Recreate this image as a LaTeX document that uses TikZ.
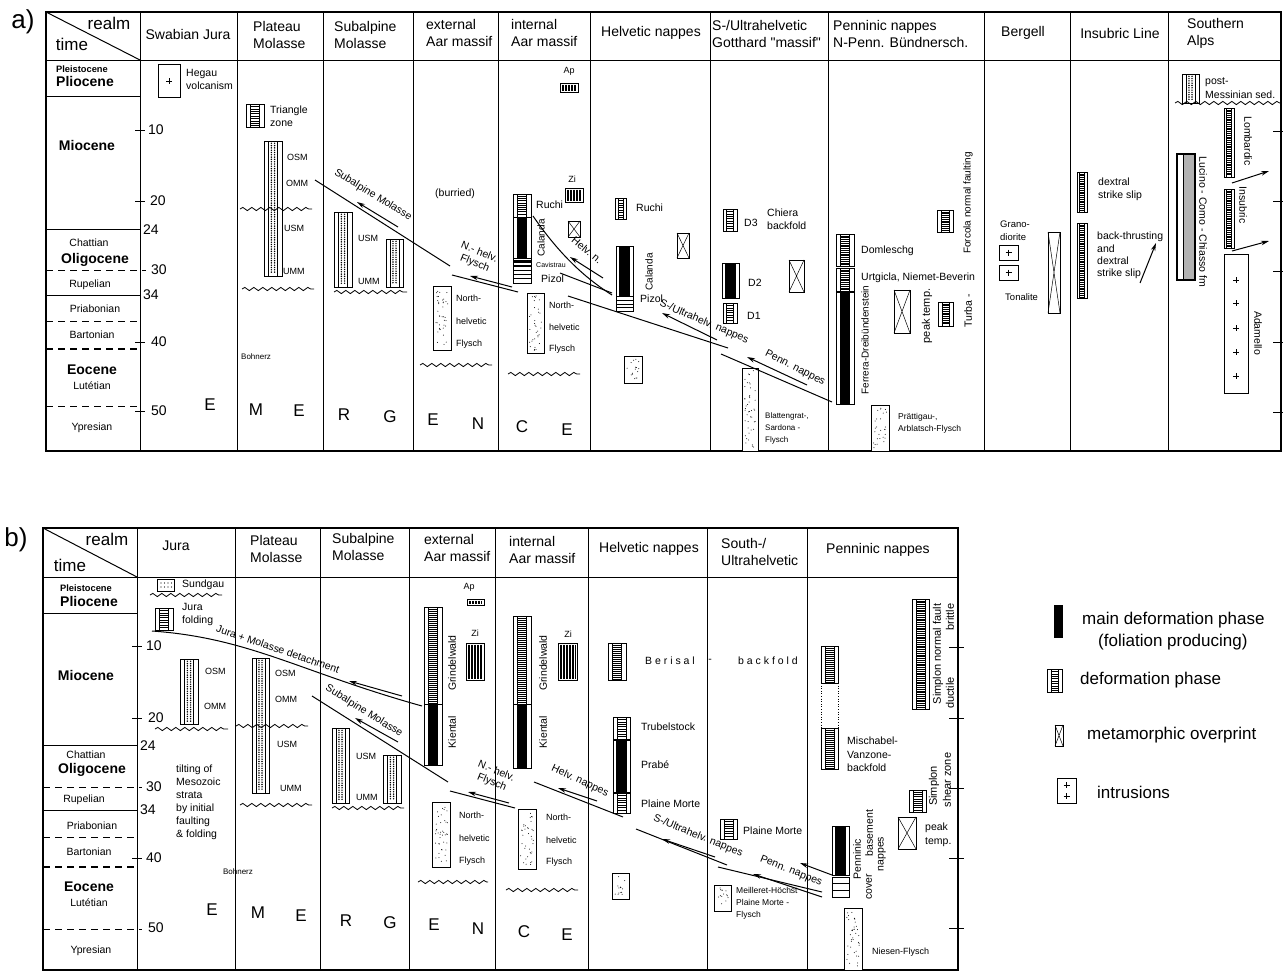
\documentclass[tikz,border=0pt]{standalone}
\usepackage{fontspec}
\setmainfont{Liberation Sans}
\newfontfamily\qf{Liberation Sans}
\usetikzlibrary{arrows.meta,decorations.pathmorphing}
% deformation phase box: spacing, x1,y1,x2,y2
\newcommand\bxD[5]{%
  \fill[white] (#2,#3) rectangle (#4,#5);
  \pgfmathsetmacro\dxa{#2+0.25*(#4-#2)}%
  \pgfmathsetmacro\dxb{#4-0.25*(#4-#2)}%
  \pgfmathsetmacro\dnn{int((#5-#3)/#1-0.5)}%
  \foreach \k in {1,...,\dnn} \draw[line width=0.45pt] (\dxa,#3+\k*#1) -- (\dxb,#3+\k*#1);
  \draw[line width=0.5pt] (\dxa,#3) -- (\dxa,#5) (\dxb,#3) -- (\dxb,#5);
  \draw[line width=0.9pt] (#2,#3) rectangle (#4,#5);
}
% main deformation phase (black with white margins)
\newcommand\bxM[4]{%
  \fill[white] (#1,#2) rectangle (#3,#4);
  \pgfmathsetmacro\dxa{#1+0.2*(#3-#1)}%
  \pgfmathsetmacro\dxb{#3-0.2*(#3-#1)}%
  \fill (\dxa,#2) rectangle (\dxb,#4);
  \draw[line width=0.9pt] (#1,#2) rectangle (#3,#4);
}
% metamorphic overprint
\newcommand\bxX[4]{%
  \draw[line width=0.9pt, fill=white] (#1,#2) rectangle (#3,#4);
  \draw[line width=0.5pt] (#1,#2) -- (#3,#4) (#1,#4) -- (#3,#2);
}
% molasse (dotted column)
\newcommand\bxMol[4]{%
  \draw[line width=0.9pt, fill=white] (#1,#2) rectangle (#3,#4);
  \pgfmathsetmacro\dxa{#1+0.24*(#3-#1)}%
  \pgfmathsetmacro\dxb{#3-0.24*(#3-#1)}%
  \pgfmathsetmacro\dca{#1+0.41*(#3-#1)}%
  \pgfmathsetmacro\dcb{#3-0.41*(#3-#1)}%
  \pgfmathsetmacro\dnn{int((#4-#2)/2.3)-1}%
  \draw[line width=0.5pt] (\dxa,#2) -- (\dxa,#4) (\dxb,#2) -- (\dxb,#4);
  \foreach \k in {1,...,\dnn} {\fill (\dca,#2+\k*2.3) circle (0.8pt) (\dcb,#2+\k*2.3) circle (0.8pt);}
}
% flysch (random dots): seed, x1,y1,x2,y2
\newcommand\bxF[5]{%
  \draw[line width=0.9pt, fill=white] (#2,#3) rectangle (#4,#5);
  \pgfmathsetseed{#1}%
  \pgfmathsetmacro\dnn{int((#4-#2)*(#5-#3)/30)}%
  \foreach \k in {1,...,\dnn} {\pgfmathsetmacro\rx{#2+2.5+rnd*(#4-#2-5)}\pgfmathsetmacro\ry{#3+2.5+rnd*(#5-#3-5)}\fill (\rx,\ry) circle (0.5pt);}
}
% vertical hatch
\newcommand\bxV[4]{%
  \draw[line width=0.9pt, fill=white] (#1,#2) rectangle (#3,#4);
  \pgfmathsetmacro\dnn{int((#3-#1-4)/1.5)}%
  \foreach \k in {0,...,\dnn} \draw[line width=0.45pt] (#1+2+\k*1.5,#2+1.5) -- (#1+2+\k*1.5,#4-1.5);
}
% box with full-width horizontal lines
\newcommand\bxH[5]{%
  \draw[line width=0.9pt, fill=white] (#1,#2) rectangle (#3,#4);
  \foreach \yy in {#5} \draw[line width=0.7pt] (#1,\yy) -- (#3,\yy);
}
% plus sign
\newcommand\bxP[2]{\draw[line width=0.7pt] (#1-3,#2) -- (#1+3,#2) (#1,#2-3) -- (#1,#2+3);}

\begin{document}
\begin{tikzpicture}[x=1pt,y=-1pt,
  fr/.style={line width=1.3pt},
  cl/.style={line width=1pt},
  dl/.style={line width=1pt, dash pattern=on 7pt off 5pt},
  thr/.style={line width=1pt},
  arr/.style={line width=1pt, -{Stealth[length=8pt,width=4.5pt]}},
  wv/.style={line width=0.8pt, decorate, decoration={snake, amplitude=1.6pt, segment length=9pt}},
  hd/.style={font=\fontsize{14}{17}\selectfont, inner sep=0pt, align=left},
  lb/.style={font=\fontsize{10.5}{13}\selectfont, inner sep=0pt, anchor=west, align=left},
  sm/.style={font=\fontsize{9}{12}\selectfont, inner sep=0pt, anchor=west, align=left},
  xs/.style={font=\fontsize{8}{12}\selectfont, inner sep=0pt, anchor=west, align=left},
  per/.style={font=\bfseries\fontsize{14}{16}\selectfont, inner sep=0pt},
  ps/.style={font=\bfseries\fontsize{9.3}{11}\selectfont, inner sep=0pt},
  stg/.style={font=\fontsize{10.5}{12}\selectfont, inner sep=0pt},
  tk/.style={font=\fontsize{14}{16}\selectfont, inner sep=0pt, anchor=west},
  big/.style={font=\fontsize{17}{18}\selectfont, inner sep=0pt},
  rl/.style={font=\fontsize{17}{18}\selectfont, inner sep=0pt},
  pl/.style={font=\fontsize{26}{28}\selectfont, inner sep=0pt},
  th/.style={font=\fontsize{10.5}{12}\selectfont, inner sep=0pt, align=center},
  rv/.style={font=\fontsize{10.5}{12}\selectfont, inner sep=0pt, rotate=90},
  rw/.style={font=\fontsize{10.5}{12}\selectfont, inner sep=0pt, rotate=-90},
  lg/.style={font=\fontsize{17}{20}\selectfont, inner sep=0pt, anchor=west}]
\useasboundingbox (0,0) rectangle (1283,972);

%================ PANEL a) =================
\node[pl] (la) at (23,22) {a)};
\draw[fr] (46,12) rectangle (1281,451);
\draw[cl] (46,60) -- (1281,60);
\foreach \x in {140,237,323,413,498,590,710,828,984,1070,1168} \draw[cl] (\x,12) -- (\x,451);
\draw[cl] (46,12) -- (140,60);
\draw[cl] (46,96) -- (140,96) (46,229) -- (140,229) (46,295) -- (140,295);
\draw[dl] (46,270) -- (146,270);
\draw[dl] (46,321) -- (140,321);
\draw[dl, line width=1.4pt] (46,349) -- (140,349);
\draw[dl] (46,406) -- (140,406);
\foreach \y in {130,201,342,411} \draw[cl] (135,\y) -- (145,\y);
\foreach \y in {131,201,271,342,412} \draw[cl] (1273,\y) -- (1283,\y);

\node[rl] (ar) at (109,23) {realm};
\node[rl] (at) at (72,44) {time};
\node[hd] (ah1) at (188,34) {Swabian Jura};
\node[hd,anchor=west] (ah2) at (253,34.5) {Plateau\\Molasse};
\node[hd,anchor=west] (ah3) at (334,34.5) {Subalpine\\Molasse};
\node[hd,anchor=west] (ah4) at (426,32.5) {external\\Aar massif};
\node[hd,anchor=west] (ah5) at (511,32.5) {internal\\Aar massif};
\node[hd] (ah6) at (651,33) {Helvetic nappes};
\node[hd,anchor=west] (ah7) at (712,33.5) {S-/Ultrahelvetic\\Gotthard {\qf "}massif{\qf "}};
\node[hd,anchor=west] (ah8) at (833,34) {Penninic nappes\\N-Penn. Bündnersch.};
\node[hd] (ah9) at (1023,33) {Bergell};
\node[hd] (ah10) at (1120,33) {Insubric Line};
\node[hd,anchor=west] (ah11) at (1187,33.5) {Southern\\Alps};

\node[ps] (a1) at (82,69) {Pleistocene};
\node[per] (a2) at (85,81) {Pliocene};
\node[per] (a3) at (87,145) {Miocene};
\node[stg] (a4) at (89,243) {Chattian};
\node[per] (a5) at (95,260) {Oligocene};
\node[stg] (a6) at (90,285) {Rupelian};
\node[stg] (a7) at (95,309) {Priabonian};
\node[stg] (a8) at (92,335) {Bartonian};
\node[per] (a9) at (92,370) {Eocene};
\node[stg] (a10) at (92,386) {Lutétian};
\node[stg] (a11) at (92,428) {Ypresian};

\node[tk] (at1) at (148,130) {10};
\node[tk] (at2) at (150,201) {20};
\node[tk] (at3) at (143,230) {24};
\node[tk] (at4) at (151,270) {30};
\node[tk] (at5) at (143,295) {34};
\node[tk] (at6) at (151,342) {40};
\node[tk] (at7) at (151,411) {50};

\node[big] (ae1) at (210,405) {E};
\node[big] (ae2) at (256,410) {M};
\node[big] (ae3) at (299,411) {E};
\node[big] (ae4) at (344,415) {R};
\node[big] (ae5) at (390,417) {G};
\node[big] (ae6) at (433,420) {E};
\node[big] (ae7) at (478,424) {N};
\node[big] (ae8) at (522,427) {C};
\node[big] (ae9) at (567,430) {E};

% Swabian Jura
\draw[line width=0.9pt] (158,64) rectangle (180,97);
\draw[line width=0.6pt] (166,81) -- (172,81) (169,78) -- (169,84);
\node[lb] (hg) at (186,79.5) {Hegau\\volcanism};

% Plateau Molasse
\bxD{2.4}{246}{104}{264}{127}
\node[lb] (tz) at (270,116.5) {Triangle\\zone};
\bxMol{264}{141}{282}{276}
\draw[wv] (240,209) -- (312,209);
\draw[wv] (242,289) -- (314,289);
\node[sm] (p1) at (287,157) {OSM};
\node[sm] (p2) at (286,183) {OMM};
\node[sm] (p3) at (284,228) {USM};
\node[sm] (p4) at (283,271) {UMM};
\node[xs] (bo) at (241,357) {Bohnerz};

% Subalpine Molasse
\bxMol{334}{212}{352}{287}
\bxMol{386}{239}{403}{287}
\draw[wv] (334,292) -- (407,292);
\node[sm] (s1) at (358,238) {USM};
\node[sm] (s2) at (358,281) {UMM};
\coordinate (sm1) at (315,180); \coordinate (sm2) at (450,266);
\draw[thr] (sm1) -- (sm2);
\coordinate (sma) at (398,227); \coordinate (smb) at (357,202);
\draw[arr] (sma) -- (smb);
\node[th, rotate=-31.5] (smt) at (373,195) {Subalpine Molasse};

% external Aar
\node[lb, anchor=center] (bu) at (455,194) {(burried)};
\bxF{11}{433}{286}{451}{350}
\node[sm] (e1) at (456,298) {North-};
\node[sm] (e2) at (456,321) {helvetic};
\node[sm] (e3) at (456,344) {Flysch};
\draw[wv] (420,365) -- (492,365);
\coordinate (nh1) at (452,275); \coordinate (nh2) at (518,292);
\draw[thr] (nh1) -- (nh2);
\coordinate (nha) at (512,287); \coordinate (nhb) at (470,276);
\draw[arr] (nha) -- (nhb);
\node[th, rotate=-22] (nht) at (477,258) {N.- helv.\\Flysch};

% internal Aar
\node[sm, anchor=center] (ap) at (569,71) {Ap};
\bxV{560}{83}{578}{92}
\node[sm, anchor=center] (zi) at (572,179) {Zi};
\bxV{565}{188}{583}{202}
\bxX{568}{221}{580}{237}
\bxD{2.2}{513}{194}{531}{217}
\bxM{513}{217}{531}{258}
\draw[line width=0.9pt, fill=white] (513,258) rectangle (531,270);
\fill (513,260) rectangle (531,262.5);
\fill (513,264.5) rectangle (531,267);
\bxH{513}{270}{531}{283}{274.5,278.5}
\node[lb] (r1) at (536,205) {Ruchi};
\node[rv, font=\fontsize{10}{12}\selectfont] (r2) at (541,238) {Calanda};
\node[xs, font=\fontsize{7}{8}\selectfont] (r3) at (536,265) {Cavistrau};
\node[lb] (r4) at (541,279) {Pizol};
\bxF{23}{527}{293}{544}{353}
\node[sm] (i1) at (549,305) {North-};
\node[sm] (i2) at (549,327) {helvetic};
\node[sm] (i3) at (549,349) {Flysch};
\draw[wv] (508,374) -- (580,374);
\coordinate (hv1) at (533,216); \coordinate (hv2) at (612,295);
\draw[thr] (hv1) .. controls (555,248) and (580,275) .. (hv2);
\coordinate (hv3) at (560,273); \coordinate (hv4) at (612,293);
\draw[thr] (hv3) -- (hv4);
\coordinate (hva) at (603,278); \coordinate (hvb) at (570,257);
\draw[arr] (hva) -- (hvb);
\node[th, rotate=-40] (hvt) at (587,250) {Helv. n.};
\coordinate (su1) at (568,296); \coordinate (su2) at (728,348);
\draw[thr] (su1) -- (su2);
\coordinate (sua) at (717,340); \coordinate (sub) at (662,313);
\draw[arr] (sua) -- (sub);
\node[th, rotate=-23] (sut) at (704,322) {S-/Ultrahelv. nappes};

% Helvetic nappes
\bxD{2.4}{615}{198}{626}{219}
\node[lb] (h1) at (636,208) {Ruchi};
\bxX{677}{233}{689}{258}
\bxM{616}{246}{633}{296}
\bxH{616}{296}{633}{311}{300,304,307.5}
\node[rv, font=\fontsize{10}{12}\selectfont] (h2) at (649,272) {Calanda};
\node[lb] (h3) at (640,299) {Pizol};
\bxF{37}{624}{356}{642}{383}

% S-/Ultrahelvetic
\bxD{2.4}{723}{209}{737}{231}
\node[lb] (u1) at (744,223) {D3};
\node[lb] (u2) at (767,219) {Chiera\\backfold};
\bxM{722}{263}{739}{298}
\node[lb] (u3) at (748,283) {D2};
\bxD{2.4}{723}{303}{737}{323}
\node[lb] (u4) at (747,316) {D1};
\bxX{789}{260}{804}{292}
\bxF{41}{742}{368}{758}{451}
\node[xs] (u5) at (765,428) {Blattengrat-,\\Sardona -\\Flysch};
\coordinate (pn1) at (721,354); \coordinate (pn2) at (832,402);
\draw[thr] (pn1) -- (pn2);
\coordinate (pna) at (807,385); \coordinate (pnb) at (747,357);
\draw[arr] (pna) -- (pnb);
\node[th, rotate=-27] (pnt) at (795,368) {Penn. nappes};

% Penninic
\bxD{1.8}{836}{234}{854}{266}
\bxD{1.8}{836}{268}{854}{291}
\bxM{836}{292}{854}{404}
\node[lb] (n1) at (861,251) {Domleschg};
\node[lb] (n2) at (861,278) {Urtgicla, Niemet-Beverin};
\node[rv, font=\fontsize{10}{12}\selectfont] (n3) at (865,340) {Ferrera-Dreibündenstein};
\bxX{894}{290}{910}{333}
\node[rv, font=\fontsize{11}{12}\selectfont] (n4) at (927,316) {peak temp.};
\bxD{1.8}{938}{302}{953}{326}
\node[rv] (n5) at (968,311) {Turba -};
\bxD{1.8}{937}{210}{953}{232}
\node[rv, font=\fontsize{10}{12}\selectfont] (n6) at (968,203) {Forcola normal faulting};
\bxF{53}{871}{405}{889}{451}
\node[xs, font=\fontsize{8.5}{12}\selectfont] (n7) at (898,423) {Prättigau-,\\Arblatsch-Flysch};

% Bergell
\node[sm, font=\fontsize{9.5}{13}\selectfont] (g1) at (1000,230.5) {Grano-\\diorite};
\draw[line width=0.9pt] (999,245) rectangle (1018,260);
\bxP{1008.5}{252.5}
\draw[line width=0.9pt] (999,265) rectangle (1018,280);
\bxP{1008.5}{272.5}
\node[sm, font=\fontsize{9.5}{13}\selectfont] (g2) at (1005,297) {Tonalite};
\bxX{1048}{232}{1060}{313}

% Insubric Line
\bxD{1.8}{1077}{172}{1087}{212}
\node[lb] (q1) at (1098,189.5) {dextral\\strike slip};
\bxD{1.8}{1077}{223}{1087}{298}
\node[lb, font=\fontsize{10.5}{12.3}\selectfont] (q2) at (1097,255.5) {back-thrusting\\and\\dextral\\strike slip};
\coordinate (qa) at (1140,283); \coordinate (qb) at (1156,243);
\draw[arr] (qa) -- (qb);

% Southern Alps
\bxMol{1182}{74}{1199}{103}
\node[lb, font=\fontsize{10.5}{14}\selectfont] (w1) at (1205,88) {post-\\Messinian sed.};
\draw[wv] (1175,103) -- (1280,103);
\bxD{1.8}{1224}{108}{1234}{177}
\node[rw] (w2) at (1248,141) {Lombardic};
\bxD{1.8}{1224}{189}{1234}{248}
\node[rw] (w3) at (1243,205) {Insubric};
\coordinate (wa1) at (1232,183); \coordinate (wb1) at (1269,171);
\draw[arr] (wa1) -- (wb1);
\coordinate (wa2) at (1232,251); \coordinate (wb2) at (1269,241);
\draw[arr] (wa2) -- (wb2);
\draw[line width=1.2pt, fill=white] (1177,154) rectangle (1195,280);
\fill[gray!60] (1183,155) rectangle (1194.3,279.3);
\draw[line width=0.5pt] (1183,154) -- (1183,280);
\draw[line width=1.2pt] (1177,154) rectangle (1195,280);
\node[rw] (w4) at (1203,222) {Lucino - Como - Chiasso fm};
\draw[line width=0.9pt] (1224,254) rectangle (1248,393);
\foreach \y in {280,303,328,352,376} \bxP{1236}{\y};
\node[rw] (w5) at (1258,333) {Adamello};

%================ PANEL b) =================
\node[pl] (lb0) at (16,540) {b)};
\draw[fr] (43,528) rectangle (958,970);
\draw[cl] (43,577) -- (958,577);
\foreach \x in {137,235,320,409,495,588,707,807} \draw[cl] (\x,528) -- (\x,970);
\draw[cl] (43,528) -- (137,577);
\draw[cl] (43,613) -- (137,613) (43,745) -- (137,745) (43,810) -- (137,810);
\draw[dl] (43,787) -- (142,787);
\draw[dl] (43,837) -- (137,837);
\draw[dl, line width=1.4pt] (43,867) -- (137,867);
\draw[dl] (43,929) -- (142,929);
\foreach \y in {646,718,858} \draw[cl] (132,\y) -- (142,\y);
\foreach \y in {647,718,788,858,928} \draw[cl] (949,\y) -- (964,\y);

\node[rl] (br) at (107,539) {realm};
\node[rl] (bt) at (70,565) {time};
\node[hd] (bh1) at (176,546) {Jura};
\node[hd,anchor=west] (bh2) at (250,548.5) {Plateau\\Molasse};
\node[hd,anchor=west] (bh3) at (332,546.5) {Subalpine\\Molasse};
\node[hd,anchor=west] (bh4) at (424,548) {external\\Aar massif};
\node[hd,anchor=west] (bh5) at (509,549.5) {internal\\Aar massif};
\node[hd] (bh6) at (649,549) {Helvetic nappes};
\node[hd,anchor=west] (bh7) at (721,552) {South-/\\Ultrahelvetic};
\node[hd] (bh8) at (878,550) {Penninic nappes};

\node[ps] (b1) at (86,588) {Pleistocene};
\node[per] (b2) at (89,601) {Pliocene};
\node[per] (b3) at (86,675) {Miocene};
\node[stg] (b4) at (86,755) {Chattian};
\node[per] (b5) at (92,770) {Oligocene};
\node[stg] (b6) at (84,800) {Rupelian};
\node[stg] (b7) at (92,826) {Priabonian};
\node[stg] (b8) at (89,852) {Bartonian};
\node[per] (b9) at (89,887) {Eocene};
\node[stg] (b10) at (89,903) {Lutétian};
\node[stg] (b11) at (91,951) {Ypresian};

\node[tk] (bt1) at (146,646) {10};
\node[tk] (bt2) at (148,718) {20};
\node[tk] (bt3) at (140,746) {24};
\node[tk] (bt4) at (146,787) {30};
\node[tk] (bt5) at (140,810) {34};
\node[tk] (bt6) at (146,858) {40};
\node[tk] (bt7) at (148,928) {50};

\node[big] (be1) at (212,910) {E};
\node[big] (be2) at (258,913) {M};
\node[big] (be3) at (301,916) {E};
\node[big] (be4) at (346,921) {R};
\node[big] (be5) at (390,923) {G};
\node[big] (be6) at (434,925) {E};
\node[big] (be7) at (478,929) {N};
\node[big] (be8) at (524,932) {C};
\node[big] (be9) at (567,935) {E};

% Jura
\draw[line width=0.9pt, fill=white] (157,579) rectangle (174,591);
\foreach \xx in {161,164.5,168,171.5} {\fill (\xx,583) circle (0.7pt) (\xx,587) circle (0.7pt);}
\node[lb] (j1) at (182,585) {Sundgau};
\draw[wv] (150,595) -- (222,595);
\bxD{2.4}{155}{608}{173}{630}
\node[lb] (j2) at (182,614.5) {Jura\\folding};
\bxMol{180}{659}{198}{724}
\node[sm] (j3) at (205,671) {OSM};
\node[sm] (j4) at (204,706) {OMM};
\draw[wv] (155,729) -- (228,729);
\node[lb] (j5) at (176,802.5) {tilting of\\Mesozoic\\strata\\by initial\\faulting\\\& folding};
\node[xs, anchor=center] (j6) at (238,872) {Bohnerz};
\coordinate (jd1) at (152,631); \coordinate (jd2) at (422,706);
\draw[thr] (jd1) .. controls (250,638) and (300,672) .. (jd2);
\coordinate (jda) at (402,696); \coordinate (jdb) at (349,681);
\draw[arr] (jda) -- (jdb);
\node[th, rotate=-19] (jdt) at (278,649) {Jura + Molasse detachment};

% Plateau Molasse
\bxMol{252}{658}{269}{793}
\node[sm] (k1) at (275,673) {OSM};
\node[sm] (k2) at (275,699) {OMM};
\node[sm] (k3) at (277,744) {USM};
\node[sm] (k4) at (280,788) {UMM};
\draw[wv] (236,726) -- (308,726);
\draw[wv] (240,805) -- (312,805);
\coordinate (bs1) at (312,696); \coordinate (bs2) at (448,782);
\draw[thr] (bs1) -- (bs2);
\coordinate (bsa) at (398,742); \coordinate (bsb) at (355,718);
\draw[arr] (bsa) -- (bsb);
\node[th, rotate=-32] (bst) at (364,711) {Subalpine Molasse};

% Subalpine Molasse
\bxMol{332}{728}{349}{803}
\bxMol{383}{755}{401}{803}
\node[sm] (m1) at (356,756) {USM};
\node[sm] (m2) at (356,797) {UMM};
\draw[wv] (332,808) -- (404,808);

% external Aar
\node[sm, anchor=center] (x1) at (469,587) {Ap};
\bxV{467}{599}{484}{605}
\node[sm, anchor=center] (x2) at (475,633) {Zi};
\bxV{466}{643}{484}{680}
\bxD{2.0}{424}{607}{442}{704}
\bxM{424}{704}{442}{765}
\node[rv] (x3) at (452,663) {Grindelwald};
\node[rv] (x4) at (452,732) {Kiental};
\bxF{71}{432}{802}{450}{867}
\node[sm] (x5) at (459,815) {North-};
\node[sm] (x6) at (459,838) {helvetic};
\node[sm] (x7) at (459,861) {Flysch};
\draw[wv] (418,882) -- (488,882);
\coordinate (bn1) at (450,791); \coordinate (bn2) at (515,808);
\draw[thr] (bn1) -- (bn2);
\coordinate (bna) at (509,803); \coordinate (bnb) at (468,792);
\draw[arr] (bna) -- (bnb);
\node[th, rotate=-22] (bnt) at (494,777) {N.- helv.\\Flysch};

% internal Aar
\node[sm, anchor=center] (y1) at (568,634) {Zi};
\bxV{558}{643}{577}{680}
\bxD{2.0}{513}{616}{531}{704}
\bxM{513}{704}{531}{768}
\node[rv] (y2) at (543,663) {Grindelwald};
\node[rv] (y3) at (543,732) {Kiental};
\bxF{83}{518}{809}{536}{869}
\node[sm] (y4) at (546,817) {North-};
\node[sm] (y5) at (546,840) {helvetic};
\node[sm] (y6) at (546,862) {Flysch};
\draw[wv] (506,890) -- (578,890);
\coordinate (bh1c) at (534,782); \coordinate (bh2c) at (623,817);
\draw[thr] (bh1c) -- (bh2c);
\coordinate (bha) at (597,801); \coordinate (bhb) at (558,788);
\draw[arr] (bha) -- (bhb);
\node[th, rotate=-25] (bht) at (580,781) {Helv. nappes};

% Helvetic nappes
\bxD{2.0}{608}{643}{626}{680}
\node[lb, font=\fontsize{10.5}{12}\selectfont] (z1) at (645,661) {B e r i s a l};
\node[lb, anchor=center] (z2) at (710,661) {-};
\node[lb] (z3) at (738,661) {b a c k f o l d};
\bxD{2.4}{613}{717}{630}{739}
\bxM{613}{740}{630}{792}
\bxD{2.4}{613}{793}{630}{813}
\node[lb] (z4) at (641,727) {Trubelstock};
\node[lb] (z5) at (641,765) {Prabé};
\node[lb] (z6) at (641,804) {Plaine Morte};
\bxF{97}{612}{873}{629}{899}
\coordinate (bu1) at (636,829); \coordinate (bu2) at (727,865);
\draw[thr] (bu1) -- (bu2);
\coordinate (bua) at (715,857); \coordinate (bub) at (662,839);
\draw[arr] (bua) -- (bub);
\node[th, rotate=-22] (but) at (698,836) {S-/Ultrahelv. nappes};

% South-/Ultrahelvetic
\bxD{2.4}{720}{819}{737}{839}
\node[lb] (v1) at (743,831) {Plaine Morte};
\bxF{101}{714}{885}{731}{911}
\node[xs, font=\fontsize{8.5}{12}\selectfont] (v2) at (736,903) {Meilleret-Höchst\\Plaine Morte -\\Flysch};
\coordinate (bp1) at (718,867); \coordinate (bp2) at (822,892);
\draw[thr] (bp1) -- (bp2);
\coordinate (bpa) at (822,897); \coordinate (bpb) at (753,874);
\draw[arr] (bpa) -- (bpb);
\coordinate (bpc) at (832,875); \coordinate (bpd) at (800,863);
\draw[arr] (bpc) -- (bpd);
\node[th, rotate=-22] (bpt) at (791,871) {Penn. nappes};

% Penninic
\bxD{2.0}{821}{646}{838}{683}
\draw[line width=0.6pt, dotted] (821,683) -- (821,728) (838,683) -- (838,728);
\bxD{2.0}{821}{728}{838}{769}
\node[lb, font=\fontsize{10.5}{13.5}\selectfont] (pp1) at (847,754.5) {Mischabel-\\Vanzone-\\backfold};
\bxD{1.8}{912}{599}{929}{709}
\node[rv, font=\fontsize{11}{12}\selectfont] (pp2) at (938,654) {Simplon normal fault};
\node[rv, font=\fontsize{11}{12}\selectfont] (pp3) at (950,617) {brittle};
\node[rv, font=\fontsize{11}{12}\selectfont] (pp4) at (950,693) {ductile};
\bxD{2.2}{909}{790}{926}{812}
\node[rv, font=\fontsize{11}{12}\selectfont] (pp5) at (934,786) {Simplon};
\node[rv, font=\fontsize{11}{12}\selectfont] (pp6) at (947,780) {shear zone};
\bxX{898}{817}{916}{849}
\node[lb, font=\fontsize{10.5}{14}\selectfont] (pp7) at (925,835) {peak\\temp.};
\bxM{832}{826}{849}{875}
\bxH{832}{877}{849}{897}{883.5,890}
\node[rv] (pp8) at (857,859) {Penninic};
\node[rv] (pp9) at (869,833) {basement};
\node[rv] (pp10) at (869,887) {cover};
\node[rv] (pp11) at (882,854) {nappes};
\bxF{113}{844}{908}{862}{970}
\node[sm] (pp12) at (872,952) {Niesen-Flysch};

%================ LEGEND =================
\fill (1054,605) rectangle (1063,638);
\node[lg] (lg1) at (1082,620) {main deformation phase};
\node[lg] (lg2) at (1098,642) {(foliation producing)};
\bxD{2.4}{1047}{669}{1062}{692}
\node[lg] (lg3) at (1080,680) {deformation phase};
\bxX{1055}{725}{1063}{746}
\node[lg] (lg4) at (1087,735) {metamorphic overprint};
\draw[line width=0.9pt] (1057,778) rectangle (1076,803);
\bxP{1066.5}{785}
\bxP{1066.5}{796}
\node[lg] (lg5) at (1097,792) {intrusions};
\end{tikzpicture}
\end{document}
